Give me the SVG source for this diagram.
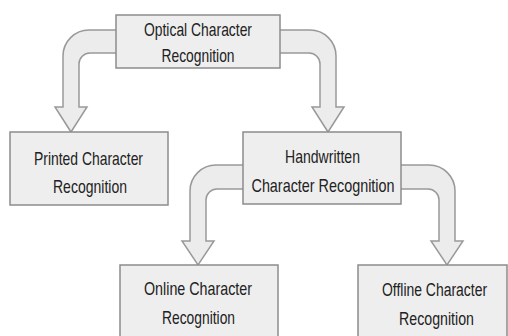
<svg xmlns="http://www.w3.org/2000/svg" width="508" height="336" viewBox="0 0 508 336">
<style>
.box{fill:#eeeeee;stroke:#8c8c8c;stroke-width:1.5}
.arr{fill:#ececec;stroke:#999999;stroke-width:1.5;stroke-linejoin:miter}
.t{font-family:"Liberation Sans",Arial,sans-serif;font-size:19px;fill:#222222;text-anchor:middle}
</style>
<rect width="508" height="336" fill="#ffffff"/>
<g id="connectors">
<path class="arr" d="M120,30 H89 A26,26 0 0 0 63,56 V107 H55 L71,132 L87,107 H79 V64 A11,11 0 0 1 90,53 H120 Z"/>
<path class="arr" d="M276,30 H310 A26,26 0 0 1 336,56 V107 H344 L328,132 L312,107 H320 V64 A11,11 0 0 0 309,53 H276 Z"/>
<path class="arr" d="M248,165 H216 A26,26 0 0 0 190,191 V241 H182 L198,265 L214,241 H206 V200 A11,11 0 0 1 217,189 H248 Z"/>
<path class="arr" d="M397,165 H429 A26,26 0 0 1 455,191 V241 H463 L447,265 L431,241 H439 V200 A11,11 0 0 0 428,189 H397 Z"/>
</g>
<g id="ocr">
<rect class="box" x="116" y="15" width="164" height="53"/>
<text class="t" x="198" y="36" textLength="108" lengthAdjust="spacingAndGlyphs">Optical Character</text>
<text class="t" x="198" y="62" textLength="73" lengthAdjust="spacingAndGlyphs">Recognition</text>
</g>
<g id="printed">
<rect class="box" x="10" y="132" width="158" height="73"/>
<text class="t" x="88.5" y="165" textLength="109" lengthAdjust="spacingAndGlyphs">Printed Character</text>
<text class="t" x="90" y="193" textLength="74" lengthAdjust="spacingAndGlyphs">Recognition</text>
</g>
<g id="handwritten">
<rect class="box" x="243" y="132" width="158" height="72"/>
<text class="t" x="322.5" y="163" textLength="75" lengthAdjust="spacingAndGlyphs">Handwritten</text>
<text class="t" x="323" y="192" textLength="143" lengthAdjust="spacingAndGlyphs">Character Recognition</text>
</g>
<g id="online">
<rect class="box" x="120" y="265" width="158" height="80"/>
<text class="t" x="198" y="295" textLength="108" lengthAdjust="spacingAndGlyphs">Online Character</text>
<text class="t" x="198.5" y="324" textLength="73" lengthAdjust="spacingAndGlyphs">Recognition</text>
</g>
<g id="offline">
<rect class="box" x="358" y="265" width="149" height="80"/>
<text class="t" transform="translate(434.5,296) scale(0.72,1)" x="0" y="0" textLength="146" lengthAdjust="spacingAndGlyphs">Offline Character</text>
<text class="t" transform="translate(436.5,325) scale(0.72,1)" x="0" y="0" textLength="104" lengthAdjust="spacingAndGlyphs">Recognition</text>
</g>
</svg>
